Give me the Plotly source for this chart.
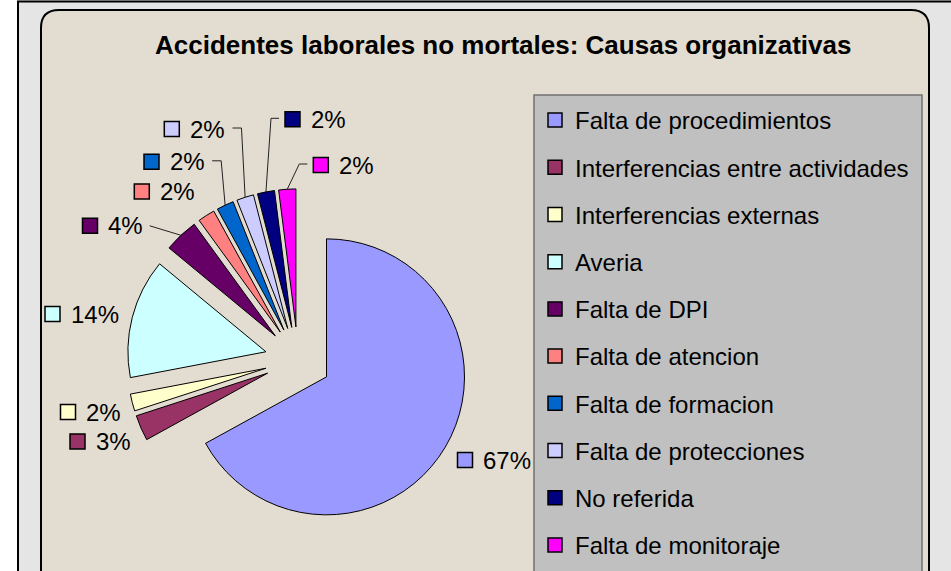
import math
import plotly.graph_objects as go

# ---------------- data ----------------
categories = [
    "Falta de procedimientos",
    "Interferencias entre actividades",
    "Interferencias externas",
    "Averia",
    "Falta de DPI",
    "Falta de atencion",
    "Falta de formacion",
    "Falta de protecciones",
    "No referida",
    "Falta de monitoraje",
]
values = [67, 3, 2, 14, 4, 2, 2, 2, 2, 2]
colors = ["#9999ff", "#993366", "#ffffcc", "#ccffff", "#660066",
          "#ff8080", "#0066cc", "#ccccff", "#000080", "#ff00ff"]
title_text = "Accidentes laborales no mortales: Causas organizativas"

# ---------------- layout constants (pixels) ----------------
W, H = 951, 571
FONT = "Liberation Sans, Arial, sans-serif"
PIE_CX, PIE_CY, PIE_R = 298, 360, 138
PULL = 0.24
LABEL_FS = 24
KEY = 15  # size of the little colour keys

# centre of the key square of each data label (layout, not data)
label_keys = [(465, 460), (77.5, 441.5), (68, 412), (52.5, 314), (90, 225.8),
              (141.8, 191.5), (151.5, 161.8), (171.8, 129), (292.5, 119.3), (320.8, 165)]
# leader style for each label
leaders = [None, None, None, None, "direct", None, "right", "right", "left", "left"]

# ---------------- helpers ----------------
def text_width(s, fs):
    w = 0
    for ch in s:
        w += 0.889 if ch == "%" else 0.556
    return w * fs

total = float(sum(values))
mids = []
acc = 0.0
for v in values:
    mids.append((acc + v / 2) / total * 360.0)
    acc += v

def direction(theta):
    t = math.radians(theta)
    return math.sin(t), -math.cos(t)

half = PIE_R * (1 + PULL)
domain_x = [(PIE_CX - half) / W, (PIE_CX + half) / W]
domain_y = [1 - (PIE_CY + half) / H, 1 - (PIE_CY - half) / H]

fig = go.Figure()

fig.add_trace(go.Pie(
    labels=categories,
    values=values,
    sort=False,
    direction="clockwise",
    rotation=0,
    pull=[PULL] * len(values),
    marker=dict(colors=colors, line=dict(color="black", width=1)),
    textinfo="none",
    showlegend=False,
    domain=dict(x=domain_x, y=domain_y),
    hovertemplate="%{label}: %{percent}<extra></extra>",
))

# legend entries (one per category, square keys)
for cat, col in zip(categories, colors):
    fig.add_trace(go.Scatter(
        x=[None], y=[None], mode="markers", name=cat, legendgroup=cat,
        marker=dict(symbol="square", size=14, color=col,
                    line=dict(color="black", width=1.5)),
        hoverinfo="skip",
    ))

shapes = []
shapes.append(dict(type="rect", x0=0, x1=17, y0=0, y1=H, fillcolor="white",
                   line=dict(width=0), layer="below"))
shapes.append(dict(type="line", x0=18, x1=18, y0=1, y1=H, line=dict(color="black", width=2)))
shapes.append(dict(type="line", x0=17, x1=W, y0=1.5, y1=1.5, line=dict(color="black", width=2)))

# rounded beige chart area
L, R, T, B, rr = 41, 929, 10, 600, 18
path = (f"M {L+rr},{T} L {R-rr},{T} Q {R},{T} {R},{T+rr} L {R},{B-rr} "
        f"Q {R},{B} {R-rr},{B} L {L+rr},{B} Q {L},{B} {L},{B-rr} L {L},{T+rr} Q {L},{T} {L+rr},{T} Z")
shapes.append(dict(type="path", path=path, fillcolor="#e3ddd1",
                   line=dict(color="black", width=2), layer="below"))

# legend box
shapes.append(dict(type="rect", x0=534, x1=922, y0=95, y1=620, fillcolor="#c0c0c0",
                   line=dict(color="#707070", width=1.5), layer="below"))

annotations = []
annotations.append(dict(x=502.5, y=45, xref="x", yref="y", text=f"<b>{title_text}</b>",
                        showarrow=False, xanchor="center", yanchor="middle",
                        font=dict(family=FONT, size=26, color="black")))

for i, v in enumerate(values):
    pct = f"{round(v / total * 100)}%"
    kx, ky = label_keys[i]
    tx = kx + KEY / 2 + 8.5
    shapes.append(dict(type="rect", x0=kx - KEY / 2, x1=kx + KEY / 2,
                       y0=ky - KEY / 2, y1=ky + KEY / 2,
                       fillcolor=colors[i], line=dict(color="black", width=1.5)))
    annotations.append(dict(x=tx, y=ky, xref="x", yref="y", text=pct, showarrow=False,
                            xanchor="left", yanchor="middle",
                            font=dict(family=FONT, size=LABEL_FS, color="black")))
    dx, dy = direction(mids[i])
    ex = PIE_CX + (PIE_R * PULL + PIE_R) * dx
    ey = PIE_CY + (PIE_R * PULL + PIE_R) * dy
    mode = leaders[i]
    if mode is None:
        continue
    tend = tx + text_width(pct, LABEL_FS)
    if mode == "direct":
        pts = [(tend + 9, ky), (ex, ey)]
    elif mode == "right":
        sx = tend + 10
        pts = [(sx, ky - 1), (sx + 9, ky - 1), (ex, ey)]
    else:
        sx = kx - KEY / 2 - 6
        pts = [(sx, ky - 1), (sx - 8, ky - 1), (ex, ey)]
    p = "M " + " L ".join(f"{x:.2f},{y:.2f}" for x, y in pts)
    shapes.append(dict(type="path", path=p, line=dict(color="#222222", width=1)))

fig.update_layout(
    width=W, height=H,
    margin=dict(l=0, r=0, t=0, b=0, pad=0),
    paper_bgcolor="#e5e5e5",
    plot_bgcolor="rgba(0,0,0,0)",
    xaxis=dict(range=[0, W], visible=False, fixedrange=True),
    yaxis=dict(range=[H, 0], visible=False, fixedrange=True),
    shapes=shapes,
    annotations=annotations,
    showlegend=True,
    legend=dict(x=535 / W, y=1 - 98 / H, xanchor="left", yanchor="top",
                bgcolor="rgba(0,0,0,0)", borderwidth=0, tracegroupgap=13,
                font=dict(family=FONT, size=24, color="black")),
)

fig.write_html("out.html", config={"displayModeBar": False},
               post_script="document.body.style.margin='0';document.body.style.overflow='hidden';")
